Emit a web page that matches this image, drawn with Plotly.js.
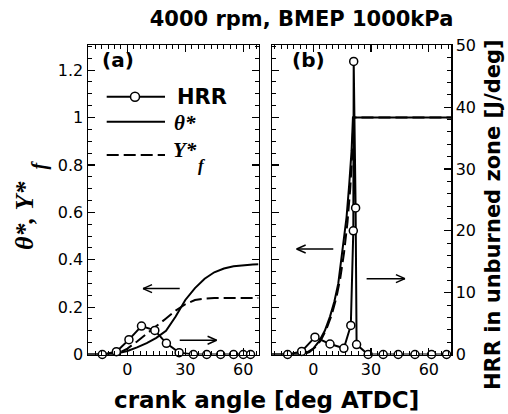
<!DOCTYPE html>
<html><head><meta charset="utf-8">
<script src="https://cdn.plot.ly/plotly-3.0.1.min.js"></script>
<style>html,body{margin:0;padding:0;background:#fff}#chart{width:508px;height:414px}</style>
</head><body><div id="chart"></div>
<script>
// ---- data: panel (a) ----
const thetaA_x = [-20.4, -10, -5, 0, 5, 10, 15, 20, 25, 30, 35, 40, 45, 50, 55, 60, 65, 67.9];
const thetaA_y = [0, 0, 0.005, 0.015, 0.03, 0.048, 0.07, 0.1, 0.16, 0.23, 0.28, 0.32, 0.347, 0.363, 0.372, 0.377, 0.38, 0.381];
const yfA_x = [-20.4, -8, -5, 0, 5, 10, 15, 20, 25, 30, 35, 40, 45, 67.9];
const yfA_y = [0, 0, 0.004, 0.025, 0.055, 0.089, 0.12, 0.152, 0.185, 0.212, 0.23, 0.236, 0.238, 0.238];
const hrrA_x = [-13, -5.7, 0.8, 7.3, 14.2, 20.2, 26.8, 34.2, 41.1, 48.3, 55, 60, 63.8];
const hrrA_y = [0, 0.45, 2.4, 4.6, 3.9, 1.8, 0.3, 0, 0, 0, 0, 0, 0];
// ---- data: panel (b) ----
const thetaB_x = [-21.4, -8, -4, 0, 3, 6, 8.7, 11, 13, 15.3, 17.3, 18.7, 19.9, 20.6, 71.5];
const thetaB_y = [0, 0, 0.005, 0.025, 0.055, 0.1, 0.16, 0.225, 0.3, 0.44, 0.58, 0.72, 0.86, 1.0, 1.0];
const yfB_x = [-21.4, -6, -2, 1, 4, 7, 9.5, 12, 14, 16, 17.8, 19.2, 20.2, 20.9, 71.5];
const yfB_y = [0, 0, 0.01, 0.03, 0.06, 0.11, 0.165, 0.24, 0.32, 0.43, 0.56, 0.7, 0.84, 1.0, 1.0];
const hrrB_x = [-13.3, -6, 0.9, 8.7, 15.9, 19.5, 20.8, 21.0, 22.0, 22.5, 28.5, 36.3, 44.1, 52.8, 61.4, 69.2];
const hrrB_y = [0, 0.5, 2.8, 1.7, 1.0, 4.7, 20.0, 47.4, 23.7, 1.6, 0, 0, 0, 0, 0, 0];
// ---- labels ----
const titleText = '4000 rpm, BMEP 1000kPa';
const xTitle = 'crank angle [deg ATDC]';
const yRightTitle = 'HRR in unburned zone [J/deg]';

const W = 508, H = 414;
const px = x => x / W, py = y => 1 - y / H;
const SANS = 'DejaVu Sans, Liberation Sans, Arial, sans-serif';
const SERIF = 'Liberation Serif, Times New Roman, serif';

const lineW = 2;
const mk = {symbol: 'circle', size: 8, color: '#fff', line: {color: '#000', width: 1.5}};
const traces = [
  {x: thetaA_x, y: thetaA_y, xaxis: 'x', yaxis: 'y', mode: 'lines', line: {color: '#000', width: lineW}},
  {x: yfA_x, y: yfA_y, xaxis: 'x', yaxis: 'y', mode: 'lines', line: {color: '#000', width: lineW, dash: '12px,5px'}},
  {x: hrrA_x, y: hrrA_y, xaxis: 'x', yaxis: 'y2', mode: 'lines+markers', line: {color: '#000', width: lineW}, marker: mk, cliponaxis: false},
  {x: thetaB_x, y: thetaB_y, xaxis: 'x2', yaxis: 'y3', mode: 'lines', line: {color: '#000', width: lineW}},
  {x: yfB_x, y: yfB_y, xaxis: 'x2', yaxis: 'y3', mode: 'lines', line: {color: '#000', width: lineW, dash: '12px,5px'}},
  {x: hrrB_x, y: hrrB_y, xaxis: 'x2', yaxis: 'y4', mode: 'lines+markers', line: {color: '#000', width: lineW}, marker: mk, cliponaxis: false}
];

const tickFont = {family: SANS, size: 16, color: '#000'};
const baseAx = {
  showline: true, linecolor: '#000', linewidth: 1.5, showgrid: false, zeroline: false,
  ticks: 'inside', ticklen: 7, tickwidth: 1.2, tickcolor: '#000', tickfont: tickFont, fixedrange: true
};
const yDom = [py(354.5), py(45)];

// arrows (annotation marks, not data): [xref, yref, headX, tailX, y]
const arrows = [
  ['x', 'y', 8.1, 27.1, 0.278],
  ['x', 'y', 46.2, 27.1, 0.060],
  ['x2', 'y3', -8.6, 10.4, 0.445],
  ['x2', 'y3', 47.6, 27.7, 0.32]
];
const arrowShapes = [];
arrows.forEach(([xr, yr, hx, tx, y]) => {
  const dir = hx < tx ? 1 : -1;
  arrowShapes.push({type: 'line', xref: xr, yref: yr, x0: tx, x1: hx, y0: y, y1: y, line: {color: '#000', width: 1.5}});
  [4, -4].forEach(dy => arrowShapes.push({
    type: 'line', xref: xr, yref: yr, xsizemode: 'pixel', ysizemode: 'pixel', xanchor: hx, yanchor: y,
    x0: 0, x1: 9 * dir, y0: 0, y1: dy, line: {color: '#000', width: 1.5}
  }));
});

const ann = (text, x, y, font, extra) => Object.assign({text, xref: 'paper', yref: 'paper', x: px(x), y: py(y),
  xanchor: 'center', yanchor: 'middle', showarrow: false, font: Object.assign({color: '#000'}, font)}, extra || {});

const layout = {
  width: W, height: H, margin: {l: 0, r: 0, t: 0, b: 0, autoexpand: false},
  paper_bgcolor: '#fff', plot_bgcolor: 'rgba(0,0,0,0)', showlegend: false,
  title: {text: '<b>' + titleText + '</b>', font: {family: SANS, size: 21, color: '#000'},
          x: px(301.5), xanchor: 'center', y: py(19), yanchor: 'middle', xref: 'paper', yref: 'paper'},
  xaxis: Object.assign({}, baseAx, {domain: [px(88), px(258.5)], range: [-20.4, 67.9], anchor: 'y', mirror: 'ticks',
          tick0: 0, dtick: 30, minor: {dtick: 10/3, ticks: 'inside', ticklen: 4, tickcolor: '#000', tickwidth: 1}}),
  yaxis: Object.assign({}, baseAx, {domain: yDom, range: [0, 1.306], anchor: 'x', mirror: 'ticks',
          tick0: 0, dtick: 0.2, minor: {dtick: 0.05, ticks: 'inside', ticklen: 4, tickcolor: '#000', tickwidth: 1}}),
  yaxis2: {overlaying: 'y', anchor: 'x', side: 'right', range: [0, 50.05], visible: false, fixedrange: true},
  xaxis2: Object.assign({}, baseAx, {domain: [px(272), px(451)], range: [-21.4, 71.5], anchor: 'y3', mirror: 'ticks',
          tick0: 0, dtick: 30, minor: {dtick: 10/3, ticks: 'inside', ticklen: 4, tickcolor: '#000', tickwidth: 1}}),
  yaxis3: Object.assign({}, baseAx, {domain: yDom, range: [0, 1.306], anchor: 'x2', side: 'left', showticklabels: false,
          tick0: 0, dtick: 0.2, minor: {dtick: 0.05, ticks: 'inside', ticklen: 4, tickcolor: '#000', tickwidth: 1}}),
  yaxis4: Object.assign({}, baseAx, {overlaying: 'y3', anchor: 'x2', side: 'right', range: [0, 50.05],
          tick0: 0, dtick: 10, minor: {dtick: 2, ticks: 'inside', ticklen: 4, tickcolor: '#000', tickwidth: 1}}),
  shapes: [
    {type: 'line', xref: 'paper', yref: 'paper', x0: px(106.7), x1: px(165), y0: py(96.7), y1: py(96.7), line: {color: '#000', width: 2}},
    {type: 'circle', xref: 'paper', yref: 'paper', xsizemode: 'pixel', ysizemode: 'pixel', xanchor: px(135), yanchor: py(96.7),
     x0: -4.5, x1: 4.5, y0: -4.5, y1: 4.5, fillcolor: '#fff', line: {color: '#000', width: 1.5}},
    {type: 'line', xref: 'paper', yref: 'paper', x0: px(106.7), x1: px(165), y0: py(121.7), y1: py(121.7), line: {color: '#000', width: 2}},
    {type: 'line', xref: 'paper', yref: 'paper', x0: px(106.7), x1: px(165), y0: py(155), y1: py(155), line: {color: '#000', width: 2, dash: '12px,5px'}}
  ].concat(arrowShapes),
  annotations: [
    ann('<b>(a)</b>', 118, 60, {family: SANS, size: 20}),
    ann('<b>(b)</b>', 308, 60, {family: SANS, size: 20}),
    ann('<b>HRR</b>', 175, 96.7, {family: SANS, size: 21}, {xanchor: 'left'}),
    ann('<b><i>θ*</i></b>', 172, 123, {family: SERIF, size: 21}, {xanchor: 'left'}),
    ann('<b><i>Y*</i></b>', 171, 150, {family: SERIF, size: 21}, {xanchor: 'left'}),
    ann('<b><i>f</i></b>', 196, 165, {family: SERIF, size: 17}, {xanchor: 'left'}),
    ann('<b><i>θ*, Y*</i></b>', 24, 216, {family: SERIF, size: 26}, {textangle: -90}),
    ann('<b><i>f</i></b>', 39, 172, {family: SERIF, size: 20}, {textangle: -90, yanchor: 'bottom'}),
    ann('<b>' + xTitle + '</b>', 266.7, 385, {family: SANS, size: 23}, {yanchor: 'top'}),
    ann('<b>' + yRightTitle + '</b>', 493, 215, {family: SANS, size: 21}, {textangle: -90})
  ]
};
Plotly.newPlot('chart', traces, layout, {staticPlot: true, displayModeBar: false});
</script>
</body></html>
